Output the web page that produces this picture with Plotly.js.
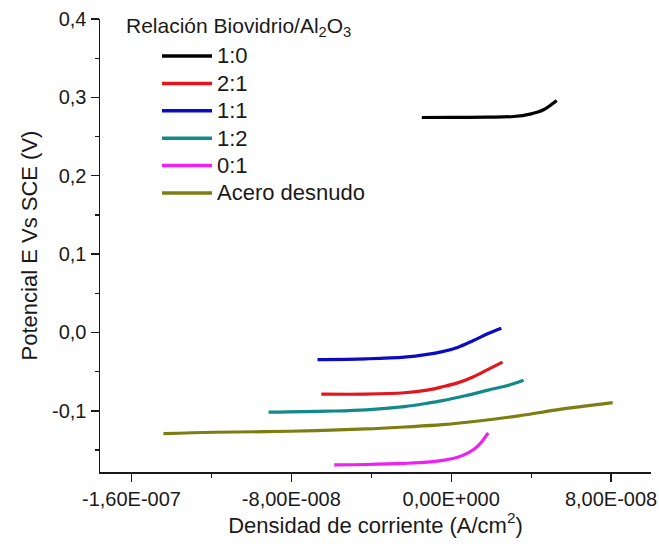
<!DOCTYPE html>
<html>
<head>
<meta charset="utf-8">
<script src="https://cdn.plot.ly/plotly-3.0.1.min.js"></script>
<style>html,body{margin:0;padding:0;background:#fff}</style>
</head>
<body>
<div id="chart" style="width:659px;height:548px"></div>
<script>
// Series names and colours
const seriesNames = ["1:0", "2:1", "1:1", "1:2", "0:1", "Acero desnudo"];
const seriesColors = ["#000000", "#e3161b", "#0b0bc4", "#138a8a", "#f020f0", "#7d7d12"];
const legendTitle = "Relación Biovidrio/Al<sub>2</sub>O<sub>3</sub>";

// Current density (A/cm2) and potential (V) for each series
const x_1_0 = [-14.7e-9, 0e-9, 17.8e-9, 31.2e-9, 39.5e-9, 46.2e-9, 52.8e-9];
const y_1_0 = [0.2743, 0.2745, 0.2748, 0.2756, 0.2787, 0.2842, 0.2960];

const x_2_1 = [-65e-9, -42.5e-9, -23.4e-9, -12e-9, -4.4e-9, 3.2e-9, 10.9e-9, 18.5e-9, 25.7e-9];
const y_2_1 = [-0.0786, -0.0786, -0.0769, -0.0735, -0.0693, -0.0643, -0.0567, -0.0470, -0.0378];

const x_1_1 = [-66.9e-9, -42.5e-9, -23.4e-9, -12e-9, -4.4e-9, 3.2e-9, 10.9e-9, 18.5e-9, 25.1e-9];
const y_1_1 = [-0.0345, -0.0336, -0.0315, -0.0280, -0.0244, -0.0190, -0.0105, -0.0013, 0.0055];

const x_1_2 = [-91.4e-9, -61.5e-9, -42.5e-9, -23.4e-9, -12e-9, -4.4e-9, 7e-9, 18.5e-9, 29.9e-9, 36.2e-9];
const y_1_2 = [-0.1017, -0.1004, -0.0987, -0.0945, -0.0903, -0.0870, -0.0807, -0.0735, -0.0664, -0.0609];

const x_0_1 = [-58.5e-9, -42.5e-9, -23.4e-9, -12e-9, -4.4e-9, 3.2e-9, 8.95e-9, 13.7e-9, 18.5e-9];
const y_0_1 = [-0.1690, -0.1684, -0.1670, -0.1655, -0.1632, -0.1592, -0.1530, -0.1440, -0.1280];

const x_acero = [-144e-9, -118.7e-9, -80.6e-9, -42.5e-9, -23.4e-9, -4.4e-9, 14.7e-9, 33.7e-9, 52.8e-9, 80.8e-9];
const y_acero = [-0.1290, -0.1273, -0.1260, -0.1231, -0.1206, -0.1176, -0.1126, -0.1063, -0.0987, -0.0895];

// Tick labels
const xTickVals = [-1.6e-7, -8e-8, 0, 8e-8];
const xTickText = ["-1,60E-007", "-8,00E-008", "0,00E+000", "8,00E-008"];
const yTickVals = [-0.1, 0.0, 0.1, 0.2, 0.3, 0.4];
const yTickText = ["-0,1", "0,0", "0,1", "0,2", "0,3", "0,4"];

const xs = [x_1_0, x_2_1, x_1_1, x_1_2, x_0_1, x_acero];
const ys = [y_1_0, y_2_1, y_1_1, y_1_2, y_0_1, y_acero];

const FONT = "Liberation Sans, Arial, sans-serif";
const TXT = "#1a1a1a";

// figure geometry
const W = 659, H = 548;
const M = {l: 100, r: 8, t: 19, b: 76};
const pw = W - M.l - M.r, ph = H - M.t - M.b;
const px2paperX = p => (p - M.l) / pw;
const px2paperY = p => (H - M.b - p) / ph;

const traces = seriesNames.map((name, i) => ({
  type: "scatter",
  mode: "lines",
  name: name,
  x: xs[i],
  y: ys[i],
  showlegend: false,
  line: {color: seriesColors[i], width: 3.2, shape: "spline", smoothing: 1}
}));

// hand-built legend (line sample + label)
const legendShapes = [];
const legendAnns = [];
seriesNames.forEach((name, i) => {
  const rowY = px2paperY(56 + 27.4 * i);
  legendShapes.push({
    type: "line", xref: "paper", yref: "paper",
    x0: px2paperX(162), x1: px2paperX(212), y0: rowY, y1: rowY,
    line: {color: seriesColors[i], width: 3.5}
  });
  legendAnns.push({
    xref: "paper", yref: "paper", x: px2paperX(215), y: rowY,
    xanchor: "left", yanchor: "middle", showarrow: false,
    text: name, font: {family: FONT, size: 22, color: TXT}
  });
});
legendAnns.push({
  xref: "paper", yref: "paper", x: px2paperX(124), y: px2paperY(27),
  xanchor: "left", yanchor: "middle", showarrow: false,
  text: legendTitle, font: {family: FONT, size: 21, color: TXT}
});

const layout = {
  width: W,
  height: H,
  margin: M,
  paper_bgcolor: "#ffffff",
  plot_bgcolor: "#ffffff",
  font: {family: FONT, color: TXT, size: 20},
  showlegend: false,
  xaxis: {
    range: [-1.7575e-7, 1.0e-7],
    showline: true, linecolor: TXT, linewidth: 1.5,
    showgrid: false, zeroline: false,
    ticks: "outside", ticklen: 8, tickwidth: 1.3, tickcolor: TXT,
    tickmode: "array", tickvals: xTickVals, ticktext: xTickText,
    tickfont: {family: FONT, size: 20, color: TXT},
    minor: {tickmode: "linear", tick0: 0, dtick: 4e-8, ticks: "outside", ticklen: 4, tickcolor: TXT, tickwidth: 1.2, showgrid: false},
    title: {text: "Densidad de corriente (A/cm<sup>2</sup>)", font: {family: FONT, size: 22, color: TXT}, standoff: 8}
  },
  yaxis: {
    range: [-0.178, 0.4],
    showline: true, linecolor: TXT, linewidth: 1.5,
    showgrid: false, zeroline: false,
    ticks: "outside", ticklen: 8, tickwidth: 1.3, tickcolor: TXT,
    tickmode: "array", tickvals: yTickVals, ticktext: yTickText,
    tickfont: {family: FONT, size: 20, color: TXT},
    minor: {tickmode: "linear", tick0: 0, dtick: 0.05, ticks: "outside", ticklen: 4, tickcolor: TXT, tickwidth: 1.2, showgrid: false},
    title: {text: "Potencial E Vs SCE (V)", font: {family: FONT, size: 22, color: TXT}, standoff: 8}
  },
  shapes: legendShapes,
  annotations: legendAnns
};

Plotly.newPlot("chart", traces, layout, {displayModeBar: false, staticPlot: true});
</script>
</body>
</html>
